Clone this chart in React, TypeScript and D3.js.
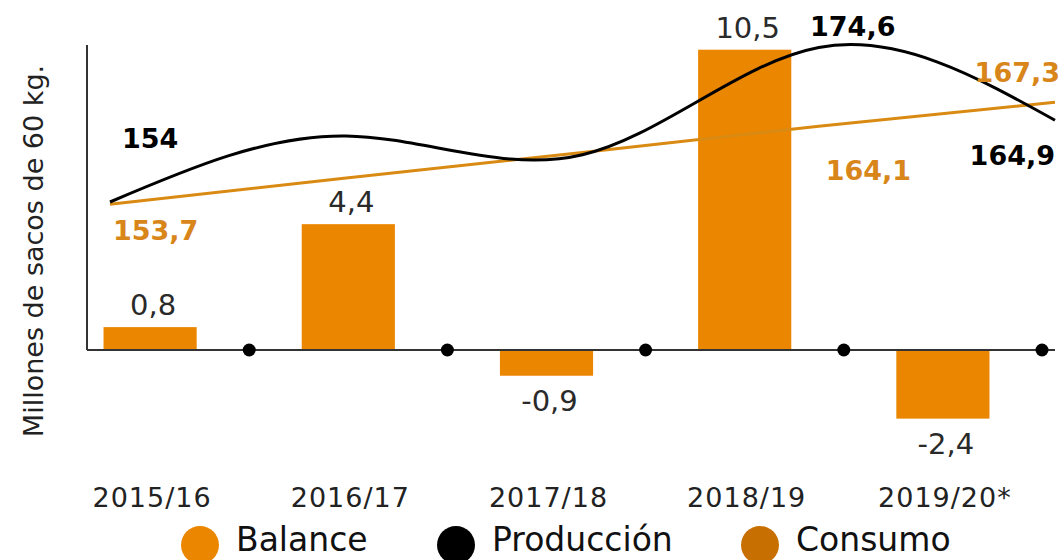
import React from "react";
import * as d3 from "d3";

const categories = ["2015/16", "2016/17", "2017/18", "2018/19", "2019/20*"];
const balance = [0.8, 4.4, -0.9, 10.5, -2.4];
const produccion = [154, 162.8, 160.3, 174.6, 164.9];
const consumo = [153.7, 157.2, 160.6, 164.1, 167.3];
const prodLabels = ["154", "", "", "174,6", "164,9"];
const consLabels = ["153,7", "", "", "164,1", "167,3"];
const legendItems = ["Balance", "Producción", "Consumo"];

const W = 1063;
const H = 560;
const FONT = "'DejaVu Sans', sans-serif";
const ORANGE = "#EB8600";
const CONS_LINE = "#D98A12";
const CONS_TEXT = "#D8861A";
const CONS_LEGEND = "#C76F00";

const fmt = (v: number) => String(v).replace(".", ",");

// label layout (offsets from the data point)
const prodLabelLayout = [
  { dx: 12, dy: -54, anchor: "start" },
  null,
  null,
  { dx: 34, dy: -12, anchor: "middle" },
  { dx: 0, dy: 45, anchor: "end" },
];
const consLabelLayout = [
  { dx: 3, dy: 36, anchor: "start" },
  null,
  null,
  { dx: 7, dy: 54, anchor: "start" },
  { dx: 5, dy: -20, anchor: "end" },
];

export default function App() {
  const x = d3
    .scaleBand<string>()
    .domain(categories)
    .range([51, 1042])
    .paddingInner(0.53)
    .paddingOuter(0.265);
  const step = x.step();
  const yBar = d3.scaleLinear().domain([-4, 11]).range([464.4, 35.4]);
  const xLine = d3.scalePoint<string>().domain(categories).range([110, 1055]);
  const yLine = d3.scaleLinear().domain([150, 180]).range([232, 7]);

  const y0 = yBar(0);

  const prodPath = d3
    .line<number>()
    .x((_, i) => xLine(categories[i])!)
    .y((d) => yLine(d))
    .curve(d3.curveNatural)(produccion)!;
  const consPath = d3
    .line<number>()
    .x((_, i) => xLine(categories[i])!)
    .y((d) => yLine(d))
    .curve(d3.curveLinear)(consumo)!;

  const legendColors = [ORANGE, "#000", CONS_LEGEND];
  const legendCircleX = [200, 456, 760];

  return (
    <svg
      width={W}
      height={H}
      style={{ position: "absolute", left: 0, top: 0, background: "#fff" }}
      fontFamily={FONT}
    >
      {/* y axis title */}
      <text
        transform={`translate(43,251) rotate(-90)`}
        textAnchor="middle"
        fontSize={27}
        fill="#222"
      >
        Millones de sacos de 60 kg.
      </text>

      {/* bars */}
      {balance.map((v, i) => {
        const cx = x(categories[i])!;
        const top = Math.min(yBar(v), y0);
        const h = Math.abs(yBar(v) - y0);
        return <rect key={i} x={cx} y={top} width={x.bandwidth()} height={h} fill={ORANGE} />;
      })}

      {/* axes */}
      <line x1={87} x2={87} y1={45} y2={y0} stroke="#333" strokeWidth={2} />
      <line x1={87} x2={1055} y1={y0} y2={y0} stroke="#333" strokeWidth={2} />
      {categories.map((c, i) => (
        <circle key={i} cx={x(c)! + x.bandwidth() / 2 + step / 2} cy={y0} r={6.5} fill="#000" />
      ))}

      {/* bar labels */}
      {balance.map((v, i) => {
        const cx = x(categories[i])! + x.bandwidth() / 2 + 3;
        const yy = v >= 0 ? yBar(v) - 12 : yBar(v) + 35;
        return (
          <text key={i} x={cx} y={yy} textAnchor="middle" fontSize={29} fill="#2a2a2a">
            {fmt(v)}
          </text>
        );
      })}

      {/* lines */}
      <path d={consPath} fill="none" stroke={CONS_LINE} strokeWidth={3} />
      <path d={prodPath} fill="none" stroke="#000" strokeWidth={3} />

      {/* line labels */}
      {produccion.map((v, i) => {
        const l = prodLabelLayout[i];
        if (!l || !prodLabels[i]) return null;
        return (
          <text
            key={"p" + i}
            x={xLine(categories[i])! + l.dx}
            y={yLine(v) + l.dy}
            textAnchor={l.anchor as any}
            fontSize={27}
            fontWeight={700}
            fill="#000"
          >
            {prodLabels[i]}
          </text>
        );
      })}
      {consumo.map((v, i) => {
        const l = consLabelLayout[i];
        if (!l || !consLabels[i]) return null;
        return (
          <text
            key={"c" + i}
            x={xLine(categories[i])! + l.dx}
            y={yLine(v) + l.dy}
            textAnchor={l.anchor as any}
            fontSize={27}
            fontWeight={700}
            fill={CONS_TEXT}
          >
            {consLabels[i]}
          </text>
        );
      })}

      {/* x labels */}
      {categories.map((c, i) => (
        <text
          key={c}
          x={x(c)! + x.bandwidth() / 2 + 2}
          y={507}
          textAnchor="middle"
          fontSize={27}
          letterSpacing={1}
          fill="#222"
        >
          {c}
        </text>
      ))}

      {/* legend */}
      {legendItems.map((t, i) => (
        <g key={t}>
          <circle cx={legendCircleX[i]} cy={545} r={19} fill={legendColors[i]} />
          <text x={legendCircleX[i] + 36} y={551} fontSize={33} fill="#111">
            {t}
          </text>
        </g>
      ))}
    </svg>
  );
}
